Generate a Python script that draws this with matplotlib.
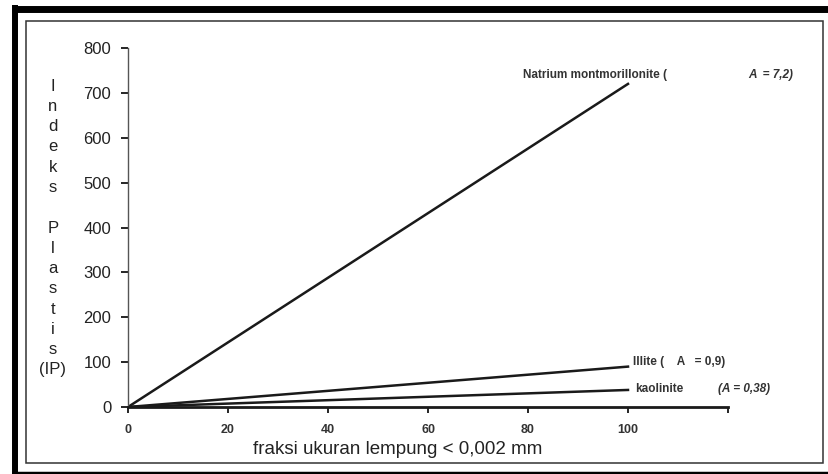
import matplotlib.pyplot as plt
from matplotlib.patches import Rectangle
from matplotlib.lines import Line2D

# clay fraction (%) and plasticity index for each mineral
fraksi = [0, 100]
natrium = [0, 720]
illite = [0, 90]
kaolinite = [0, 38]

x_ticks = [0, 20, 40, 60, 80, 100, 120]
x_labels = ["0", "20", "40", "60", "80", "100", ""]
y_ticks = [0, 100, 200, 300, 400, 500, 600, 700, 800]

plt.rcParams['font.family'] = ['Liberation Sans', 'DejaVu Sans']

W, H = 829, 474
fig = plt.figure(figsize=(W / 100, H / 100), dpi=100)

# scanned frame: thick black outer border (left, top, bottom) and thin inner box
def px_line(x0, y0, x1, y1, lw, color="black"):
    fig.lines.append(Line2D([x0 / W, x1 / W], [1 - y0 / H, 1 - y1 / H],
                            transform=fig.transFigure, color=color, lw=lw,
                            solid_capstyle="butt"))

px_line(15, 5, 15, 474, 4.3)
px_line(12, 8.5, 829, 8.5, 5.0)
px_line(12, 472.5, 829, 472.5, 2.5)
fig.patches.append(Rectangle((26 / W, 1 - 463 / H), 797 / W, 442 / H,
                             transform=fig.transFigure, fill=False,
                             edgecolor="#333333", linewidth=1.1))

ax = fig.add_axes([128 / W, 67 / H, 600 / W, 359 / H])

ax.plot(fraksi, natrium, color="#1a1a1a", lw=1.8)
ax.plot(fraksi, illite, color="#1a1a1a", lw=1.8)
ax.plot(fraksi, kaolinite, color="#1a1a1a", lw=1.8)

ax.set_xlim(0, 120)
ax.set_ylim(0, 800)
ax.set_xticks(x_ticks)
ax.set_xticklabels(x_labels, fontsize=9, fontweight="bold", color="#333333")
ax.set_yticks(y_ticks)
ax.set_yticklabels([str(v) for v in y_ticks], fontsize=12, color="#222222")
ax.tick_params(axis="y", direction="out", length=5, width=1.2, pad=7)
ax.tick_params(axis="x", direction="out", length=4, width=1.2, pad=8)
for s in ["top", "right"]:
    ax.spines[s].set_visible(False)
ax.spines["left"].set_linewidth(1.0)
ax.spines["left"].set_color("#555555")
ax.spines["bottom"].set_linewidth(2)
ax.spines["bottom"].set_color("#1a1a1a")

ax.set_xlabel("fraksi ukuran lempung < 0,002 mm", fontsize=13.5, color="#222222")
ax.xaxis.set_label_coords(54 / 120, -0.095)

# stacked vertical y label
ylab = "I\nn\nd\ne\nk\ns\n \nP\nl\na\ns\nt\ni\ns\n(IP)"
fig.text(53 / W, 1 - 228 / H, ylab, fontsize=12, ha="center", va="center",
         linespacing=1.44, color="#222222")

# line annotations
lab = dict(fontsize=8.5, fontweight="bold", color="#333333")
ax.text(79, 740, "Natrium montmorillonite (", va="center", **lab)
ax.text(133, 740, "A  = 7,2)", style="italic", va="center", ha="right", **lab)
ax.text(101, 100, "Illite (    A   = 0,9)", va="center", **lab)
ax.text(101.5, 40, "kaolinite", va="center", **lab)
ax.text(128.5, 40, "(A = 0,38)", style="italic", va="center", ha="right", **lab)

fig.savefig("out.png", dpi=100)
